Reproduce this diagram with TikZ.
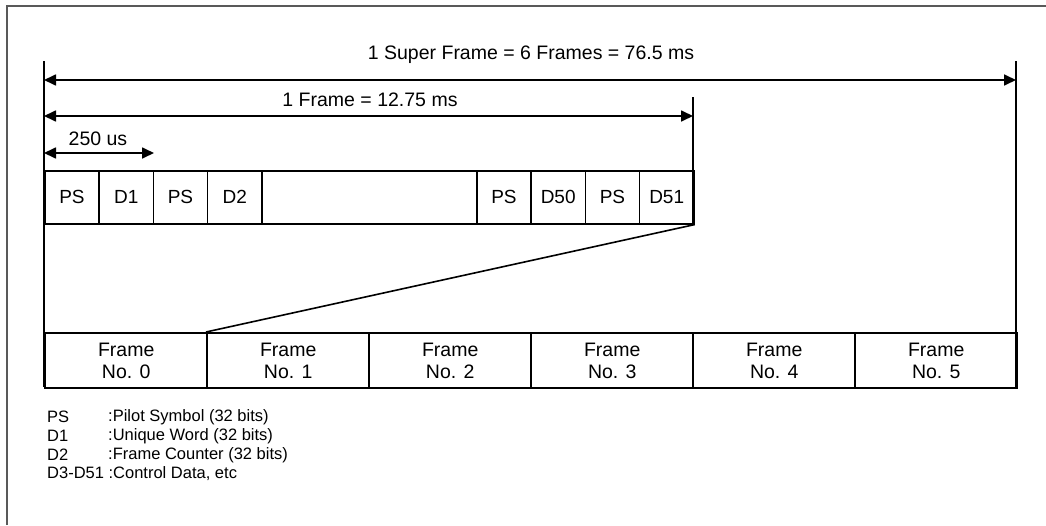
\documentclass[tikz,border=0pt]{standalone}
\usepackage{fontspec}
\setmainfont{Liberation Sans}
\usetikzlibrary{arrows.meta}
\begin{document}
\begin{tikzpicture}[x=1pt,y=-1pt,
  slot/.style={draw,line width=1.6pt,minimum height=53pt,minimum width=54.25pt,inner sep=0pt,font=\fontsize{19}{21}\selectfont,anchor=north west},
  frm/.style={draw,line width=2.4pt,minimum width=162pt,minimum height=55pt,inner sep=0pt,align=center,font=\fontsize{19.5}{22}\selectfont,anchor=north west},
  dim/.style={line width=1.7pt,{Triangle[length=12pt,width=11pt]}-{Triangle[length=12pt,width=11pt]}},
  lbl/.style={font=\fontsize{19.5}{21}\selectfont,inner sep=0pt},
  leg/.style={font=\fontsize{16.5}{18}\selectfont,inner sep=0pt,anchor=west},
  rule/.style={line width=1.8pt}]
\useasboundingbox (0,0) rectangle (1046,525);
% outer border
\draw[line width=1.3pt,black!65] (7,525) -- (7,6) -- (1046,6);
% extents
\coordinate (L0) at (44,61);
\coordinate (L1) at (44,387);
\coordinate (R0) at (1016,61);
\coordinate (R1) at (1016,387);
\coordinate (F0) at (693,97);
\coordinate (F1) at (693,223);
\draw[rule] (L0) -- (L1);
\draw[rule] (R0) -- (R1);
\draw[rule] (F0) -- (F1);
% dimension arrows
\coordinate (sa) at (44,80);  \coordinate (sb) at (1016,80);
\coordinate (fa) at (44,116); \coordinate (fb) at (693,116);
\coordinate (ua) at (44,153); \coordinate (ub) at (154,153);
\draw[dim] (sa) -- (sb);
\draw[dim] (fa) -- (fb);
\draw[dim] (ua) -- (ub);
\node[lbl] (tsuper) at (531,55) {1 Super Frame = 6 Frames = 76.5 ms};
\node[lbl] (tframe) at (370,100) {1 Frame = 12.75 ms};
\node[lbl] (tus) at (98,139) {250 us};
% slots
\node[slot] (s1) at (44,170) {PS};
\node[slot] (s2) at (98.25,170) {D1};
\node[slot] (s3) at (152.5,170) {PS};
\node[slot] (s4) at (206.75,170) {D2};
\node[slot,minimum width=215pt] (sgap) at (261,170) {};
\node[slot] (s5) at (476,170) {PS};
\node[slot] (s6) at (530.25,170) {D50};
\node[slot] (s7) at (584.5,170) {PS};
\node[slot] (s8) at (638.75,170) {D51};
% frames
\node[frm] (f0) at (44,332) {Frame\\No. 0};
\node[frm] (f1) at (206,332) {Frame\\No. 1};
\node[frm] (f2) at (368,332) {Frame\\No. 2};
\node[frm] (f3) at (530,332) {Frame\\No. 3};
\node[frm] (f4) at (692,332) {Frame\\No. 4};
\node[frm] (f5) at (854,332) {Frame\\No. 5};
% zoom line
\draw[line width=1.6pt] (s8.south east) -- (f1.north west);
% legend
\node[leg] (k1) at (47,417) {PS};
\node[leg] (v1) at (108,417) {:Pilot Symbol (32 bits)};
\node[leg] (k2) at (47,436) {D1};
\node[leg] (v2) at (108,436) {:Unique Word (32 bits)};
\node[leg] (k3) at (47,455) {D2};
\node[leg] (v3) at (108,455) {:Frame Counter (32 bits)};
\node[leg] (k4) at (47,474) {D3-D51 :Control Data, etc};
\end{tikzpicture}
\end{document}
